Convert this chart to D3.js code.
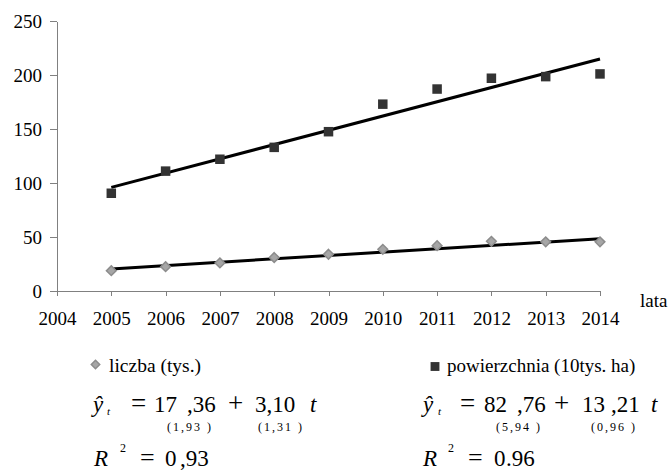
<!DOCTYPE html>
<meta charset="utf-8">
<head>
  <title>liczba i powierzchnia</title>
</head>

<style>
body { margin: 0; background: #fff; }
.axis path, .axis line { stroke: #808080; stroke-width: 1px; shape-rendering: crispEdges; }
.trend { stroke: #000; stroke-width: 3px; fill: none; }
</style>

<body>
<svg width="668" height="472"></svg>

<script src="https://cdn.jsdelivr.net/npm/d3@7/dist/d3.min.js"></script>
<script>
// data
var years = [2005, 2006, 2007, 2008, 2009, 2010, 2011, 2012, 2013, 2014];
var liczba = [18.8, 22.5, 26, 31, 34, 38.6, 42, 46, 45.5, 45.5];
var powierzchnia = [90.5, 111, 122, 133, 147.5, 173, 187, 197, 198.5, 201];
var xTicks = [2004, 2005, 2006, 2007, 2008, 2009, 2010, 2011, 2012, 2013, 2014];
var yTicks = [0, 50, 100, 150, 200, 250];
// trend coefficients (a + b*t, t = 1..10)
var trendLiczba = [17.36, 3.10];
var trendPow = [82.76, 13.21];

var serif = "'Liberation Serif'";
var svg = d3.select("svg");

var x = d3.scaleLinear().domain([2004, 2014]).range([57, 600]);
var y = d3.scaleLinear().domain([0, 250]).range([291, 21]);

// axes
var xAxis = svg.append("g")
  .attr("class", "axis")
  .attr("transform", "translate(0," + y(0) + ")")
  .call(d3.axisBottom(x).tickValues(xTicks).tickFormat(d3.format("d"))
    .tickSizeInner(5).tickSizeOuter(0));
xAxis.selectAll("text").attr("y", 34).attr("dy", 0);

var yAxis = svg.append("g")
  .attr("class", "axis")
  .attr("transform", "translate(" + x(2004) + ",0)")
  .call(d3.axisLeft(y).tickValues(yTicks).tickSizeInner(7).tickSizeOuter(0));
yAxis.selectAll("text").attr("x", -15).attr("dy", "0.33em");

svg.selectAll(".axis")
  .attr("font-family", serif).attr("font-size", 19);
svg.selectAll(".axis text")
  .style("font-family", serif).style("font-size", "19px").style("fill", "#000");

svg.append("text")
  .attr("x", 640).attr("y", 307)
  .style("font-family", serif).style("font-size", "19px")
  .text("lata");

// trend lines
function trendPts(c) {
  return [years[0], years[years.length - 1]].map(function(yr) {
    return [x(yr), y(c[0] + c[1] * (yr - 2004))];
  });
}
svg.append("path").attr("class", "trend").attr("d", d3.line()(trendPts(trendLiczba)));
svg.append("path").attr("class", "trend").attr("d", d3.line()(trendPts(trendPow)));

// markers
var diamond = d3.symbol().type(d3.symbolDiamond2).size(60);
var square = d3.symbol().type(d3.symbolSquare2).size(115);

svg.append("g")
  .selectAll("path")
  .data(years)
  .enter()
  .append("path")
  .attr("d", diamond)
  .attr("transform", function(d, i) { return "translate(" + x(d) + "," + y(liczba[i]) + ")"; })
  .attr("fill", "#a6a6a6")
  .attr("stroke", "#8c8c8c")
  .attr("stroke-width", 1.5);

svg.append("g")
  .selectAll("path")
  .data(years)
  .enter()
  .append("path")
  .attr("d", square)
  .attr("transform", function(d, i) { return "translate(" + x(d) + "," + y(powierzchnia[i]) + ")"; })
  .attr("fill", "#333333");

// text helper
function put(px, py, txt, size, italic) {
  var t = svg.append("text")
    .attr("x", px).attr("y", py)
    .style("font-family", serif)
    .style("font-size", size + "px")
    .style("fill", "#000")
    .text(txt);
  if (italic) t.style("font-style", "italic");
  return t;
}

// legend
svg.append("path")
  .attr("d", d3.symbol().type(d3.symbolDiamond2).size(45))
  .attr("transform", "translate(95.5,364.5)")
  .attr("fill", "#a6a6a6").attr("stroke", "#8c8c8c").attr("stroke-width", 1.5);
put(109, 372, "liczba (tys.)", 19.5);

svg.append("path")
  .attr("d", d3.symbol().type(d3.symbolSquare2).size(100))
  .attr("transform", "translate(435,366.5)")
  .attr("fill", "#333333");
put(447, 372, "powierzchnia (10tys. ha)", 19);

// equations
var eqs = [
  { a: trendLiczba, se: ["(1,93 )", "(1,31 )"], r2: ["0", ",93"],
    pos: { y: 93, ts: 107, eq: 131, a1: 154, a2: 187, plus: 228, b1: 255, b2: 268, t: 310,
           s1: 167, s2: 258, r: 94, r2s: 120, req: 140, rv: 165, rv2: 180 } },
  { a: trendPow, se: ["(5,94 )", "(0,96 )"], r2: ["0", ".96"],
    pos: { y: 423, ts: 438, eq: 460, a1: 484, a2: 517, plus: 554, b1: 582, b2: 611, t: 651,
           s1: 496, s2: 591, r: 423, r2s: 448, req: 468, rv: 494, rv2: 506 } }
];
eqs.forEach(function(e) {
  var p = e.pos;
  var a = e.a[0].toFixed(2).split(".");
  var b = e.a[1].toFixed(2).split(".");
  put(p.y, 412, "ŷ", 23, true);
  put(p.ts, 415, "t", 11, true);
  put(p.eq, 412, "=", 27);
  put(p.a1, 412, a[0], 23);
  put(p.a2, 412, "," + a[1], 23);
  put(p.plus, 412, "+", 27);
  if (b[0].length == 1) {
    put(p.b1, 412, b[0] + "," + b[1], 23);
  } else {
    put(p.b1, 412, b[0], 23);
    put(p.b2, 412, "," + b[1], 23);
  }
  put(p.t, 412, "t", 23, true);
  put(p.s1, 431, e.se[0], 12).style("letter-spacing", "2px");
  put(p.s2, 431, e.se[1], 12).style("letter-spacing", "2px");
  put(p.r, 466, "R", 23, true);
  put(p.r2s, 452, "2", 12);
  put(p.req, 466, "=", 26);
  put(p.rv, 466, e.r2[0], 23);
  put(p.rv2, 466, e.r2[1], 23);
});
</script>
</body>
</html>
